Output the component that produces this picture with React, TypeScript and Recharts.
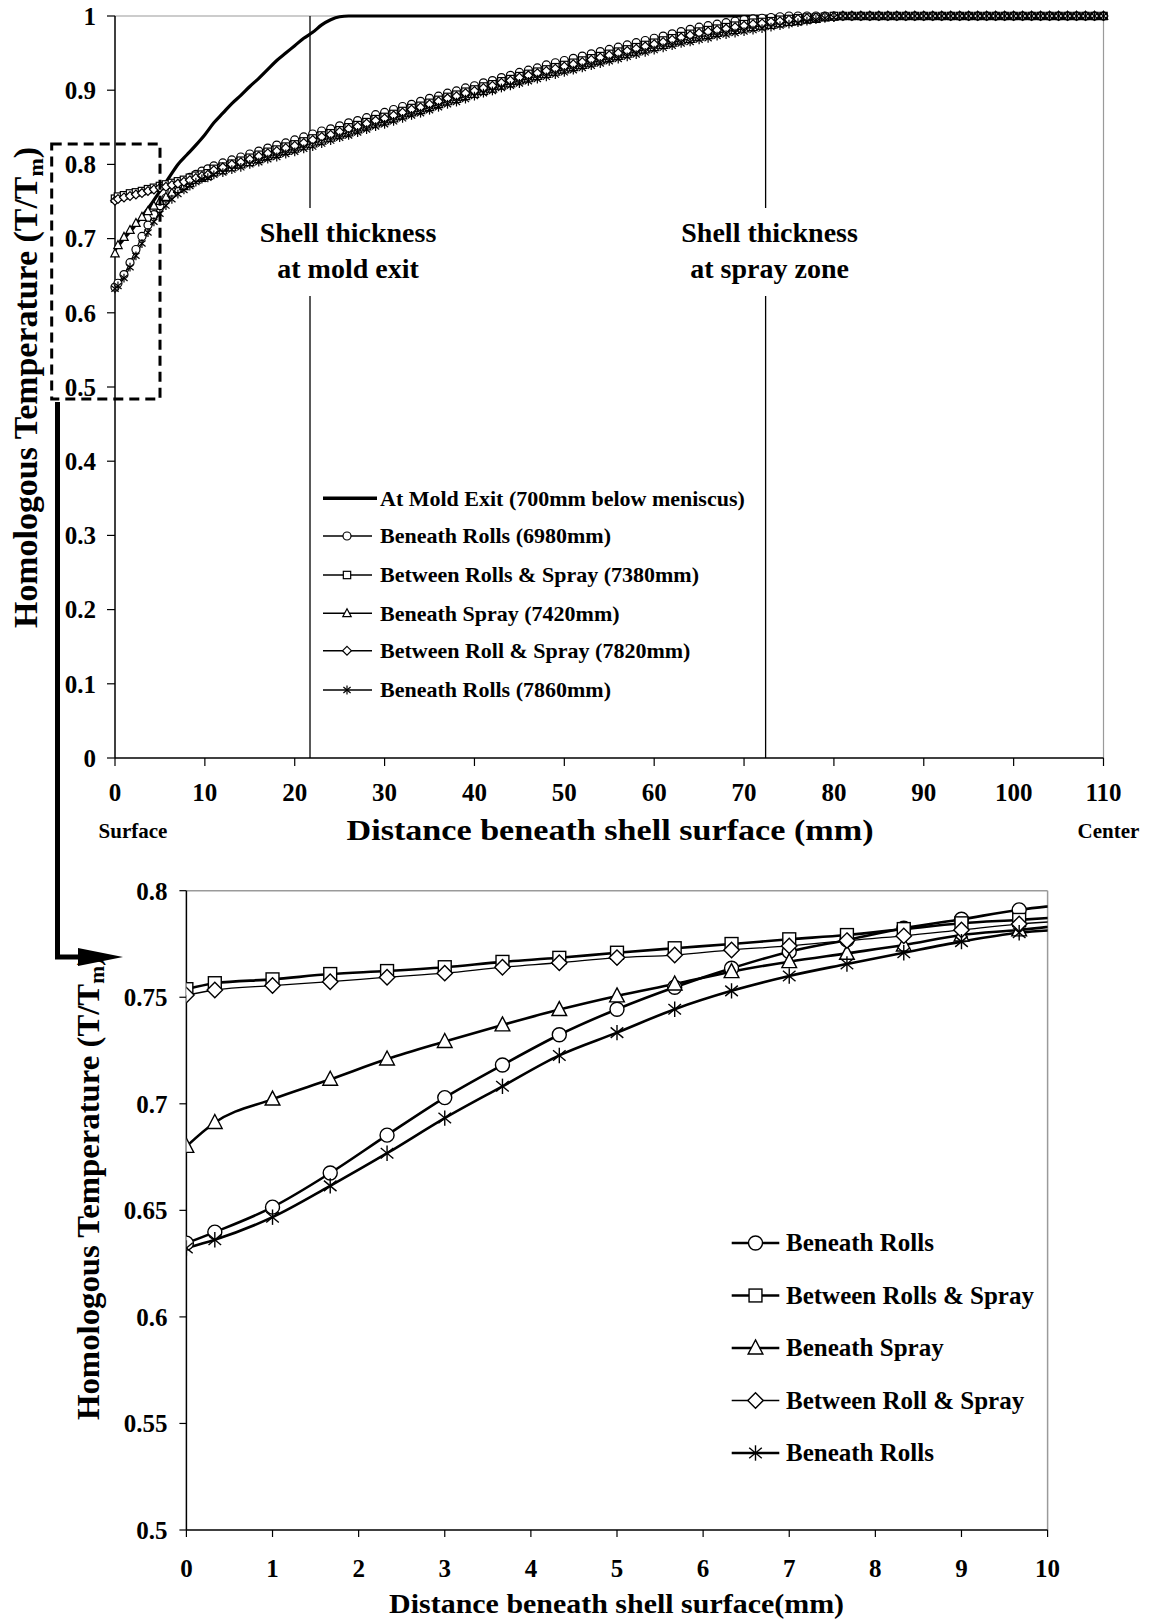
import React from 'react';
import { LineChart, Line, XAxis, YAxis, ReferenceLine, Legend, CartesianGrid } from 'recharts';

const FONT = "'Liberation Serif', 'Times New Roman', Times, serif";

// distance beneath shell surface (mm) for the first 10 mm (same nodes in both charts)
const nearX = [0, 0.33, 1, 1.67, 2.33, 3, 3.67, 4.33, 5, 5.67, 6.33, 7, 7.67, 8.33, 9, 9.67, 10.33];
const rolls6980Near = [0.6346, 0.6398, 0.6515, 0.6675, 0.6853, 0.7029, 0.7182, 0.7324, 0.7444, 0.7547, 0.7636, 0.7714, 0.7769, 0.7824, 0.7866, 0.791, 0.794];
const rollsSpray7380Near = [0.7538, 0.7566, 0.7584, 0.7609, 0.7623, 0.7641, 0.7666, 0.7685, 0.7709, 0.773, 0.775, 0.7772, 0.7792, 0.782, 0.7847, 0.7863, 0.788];
const spray7420Near = [0.68, 0.6912, 0.7022, 0.7115, 0.721, 0.7292, 0.737, 0.7442, 0.7506, 0.7562, 0.762, 0.7667, 0.7706, 0.7745, 0.7792, 0.7816, 0.7845];
const rollSpray7820Near = [0.751, 0.7534, 0.7555, 0.7573, 0.7594, 0.7613, 0.7641, 0.7662, 0.7686, 0.7698, 0.7722, 0.7741, 0.7766, 0.7788, 0.7816, 0.7844, 0.786];
const rolls7860Near = [0.6323, 0.6362, 0.6468, 0.6615, 0.6768, 0.6933, 0.7082, 0.7227, 0.7334, 0.7444, 0.753, 0.76, 0.7656, 0.7709, 0.7761, 0.7803, 0.782];

// remaining half thickness, 11 .. 110 mm
const farX = [
  11, 12, 13, 14, 15, 16, 17, 18, 19, 20, 21, 22, 23, 24, 25, 26, 27, 28, 29, 30,
  31, 32, 33, 34, 35, 36, 37, 38, 39, 40, 41, 42, 43, 44, 45, 46, 47, 48, 49, 50,
  51, 52, 53, 54, 55, 56, 57, 58, 59, 60, 61, 62, 63, 64, 65, 66, 67, 68, 69, 70,
  71, 72, 73, 74, 75, 76, 77, 78, 79, 80, 81, 82, 83, 84, 85, 86, 87, 88, 89, 90,
  91, 92, 93, 94, 95, 96, 97, 98, 99, 100, 101, 102, 103, 104, 105, 106, 107, 108, 109, 110,
];
// 81 .. 110 mm: fully liquid core
const plateau = [1, 1, 1, 1, 1, 1, 1, 1, 1, 1, 1, 1, 1, 1, 1, 1, 1, 1, 1, 1, 1, 1, 1, 1, 1, 1, 1, 1, 1, 1];
const rolls6980Far = [
  0.798, 0.802, 0.806, 0.81, 0.814, 0.818, 0.822, 0.826, 0.829, 0.833,
  0.837, 0.841, 0.845, 0.848, 0.852, 0.856, 0.859, 0.863, 0.867, 0.87,
  0.874, 0.878, 0.881, 0.885, 0.889, 0.892, 0.896, 0.899, 0.903, 0.906,
  0.91, 0.913, 0.917, 0.92, 0.924, 0.927, 0.93, 0.934, 0.937, 0.94,
  0.943, 0.946, 0.949, 0.952, 0.955, 0.958, 0.961, 0.964, 0.967, 0.97,
  0.973, 0.976, 0.979, 0.982, 0.985, 0.987, 0.989, 0.991, 0.993, 0.995,
  0.996, 0.997, 0.998, 0.999, 1, 1, 1, 1, 1, 1, ...plateau,
];
const rollsSpray7380Far = [
  0.794, 0.797, 0.801, 0.805, 0.809, 0.813, 0.817, 0.82, 0.824, 0.827,
  0.831, 0.835, 0.839, 0.842, 0.846, 0.85, 0.853, 0.857, 0.861, 0.864,
  0.868, 0.872, 0.876, 0.879, 0.883, 0.887, 0.891, 0.894, 0.898, 0.901,
  0.905, 0.908, 0.912, 0.915, 0.919, 0.922, 0.925, 0.928, 0.931, 0.934,
  0.937, 0.94, 0.943, 0.946, 0.949, 0.952, 0.955, 0.958, 0.961, 0.964,
  0.967, 0.97, 0.973, 0.976, 0.979, 0.981, 0.983, 0.985, 0.987, 0.989,
  0.991, 0.992, 0.993, 0.995, 0.996, 0.997, 0.998, 0.998, 0.999, 1, ...plateau,
];
const spray7420Far = [
  0.789, 0.792, 0.796, 0.8, 0.803, 0.807, 0.811, 0.814, 0.818, 0.821,
  0.825, 0.828, 0.832, 0.836, 0.84, 0.843, 0.847, 0.851, 0.855, 0.858,
  0.862, 0.866, 0.87, 0.873, 0.877, 0.881, 0.885, 0.888, 0.892, 0.895,
  0.899, 0.902, 0.906, 0.909, 0.913, 0.916, 0.919, 0.922, 0.925, 0.928,
  0.931, 0.934, 0.937, 0.94, 0.943, 0.946, 0.949, 0.952, 0.955, 0.958,
  0.961, 0.964, 0.967, 0.969, 0.972, 0.974, 0.977, 0.979, 0.981, 0.983,
  0.985, 0.987, 0.988, 0.99, 0.992, 0.993, 0.995, 0.996, 0.998, 0.999, ...plateau,
];
const rollSpray7820Far = [
  0.792, 0.796, 0.8, 0.803, 0.807, 0.811, 0.815, 0.818, 0.822, 0.825,
  0.829, 0.833, 0.837, 0.84, 0.844, 0.848, 0.851, 0.855, 0.859, 0.862,
  0.866, 0.87, 0.874, 0.877, 0.881, 0.885, 0.889, 0.892, 0.896, 0.899,
  0.903, 0.906, 0.91, 0.913, 0.917, 0.92, 0.923, 0.926, 0.929, 0.932,
  0.935, 0.938, 0.941, 0.944, 0.947, 0.95, 0.953, 0.956, 0.959, 0.962,
  0.965, 0.968, 0.971, 0.974, 0.977, 0.979, 0.981, 0.983, 0.985, 0.987,
  0.989, 0.99, 0.992, 0.993, 0.995, 0.996, 0.997, 0.998, 0.999, 0.999, ...plateau,
];
const rolls7860Far = [
  0.786, 0.789, 0.793, 0.796, 0.8, 0.803, 0.807, 0.81, 0.814, 0.817,
  0.821, 0.824, 0.828, 0.832, 0.836, 0.839, 0.843, 0.847, 0.851, 0.854,
  0.858, 0.862, 0.866, 0.869, 0.873, 0.877, 0.881, 0.884, 0.888, 0.892,
  0.896, 0.899, 0.903, 0.906, 0.909, 0.912, 0.915, 0.918, 0.921, 0.924,
  0.927, 0.93, 0.933, 0.936, 0.939, 0.942, 0.945, 0.948, 0.951, 0.954,
  0.957, 0.96, 0.963, 0.965, 0.968, 0.97, 0.973, 0.975, 0.977, 0.979,
  0.981, 0.983, 0.985, 0.987, 0.989, 0.991, 0.993, 0.995, 0.997, 0.998, ...plateau,
];

// mold exit profile (no markers)
const moldExitX = [0, 1, 2, 3, 4, 5, 6, 7, 8, 9, 10, 11, 12, 13, 14, 15, 16, 17, 18, 19, 20, 21, 22, 23, 24, 25, 26, 110];
const moldExitT = [0.685, 0.7, 0.714, 0.73, 0.746, 0.764, 0.782, 0.8, 0.813, 0.826, 0.84, 0.856, 0.869, 0.882, 0.893, 0.905, 0.916, 0.928, 0.94, 0.95, 0.96, 0.97, 0.978, 0.988, 0.995, 0.999, 1, 1];

const moldExitName = 'At Mold Exit (700mm below meniscus)';
const seriesNames = ['Beneath Rolls (6980mm)', 'Between Rolls & Spray (7380mm)', 'Beneath Spray (7420mm)', 'Between Roll & Spray (7820mm)', 'Beneath Rolls (7860mm)'];
const zoomNames = ['Beneath Rolls', 'Between Rolls & Spray', 'Beneath Spray', 'Between Roll & Spray', 'Beneath Rolls'];
const markerShapes = ['circle', 'square', 'triangle', 'diamond', 'star'];
const zoomLineWidth = [2.6, 2.6, 2.6, 1.3, 2.6];

const topXTicks = [0, 10, 20, 30, 40, 50, 60, 70, 80, 90, 100, 110];
const topYTicks = [0, 0.1, 0.2, 0.3, 0.4, 0.5, 0.6, 0.7, 0.8, 0.9, 1];
const zoomXTicks = [0, 1, 2, 3, 4, 5, 6, 7, 8, 9, 10];
const zoomYTicks = [0.5, 0.55, 0.6, 0.65, 0.7, 0.75, 0.8];

const shellMoldExit = 21.7;
const shellSprayZone = 72.4;

const nearValues = [rolls6980Near, rollsSpray7380Near, spray7420Near, rollSpray7820Near, rolls7860Near];
const farValues = [rolls6980Far, rollsSpray7380Far, spray7420Far, rollSpray7820Far, rolls7860Far];

const toPoints = (xs: number[], ys: number[]) => xs.map((x, i) => ({ x, t: ys[i] }));
const topSeries = nearValues.map((v, i) => toPoints([...nearX, ...farX], [...v, ...farValues[i]]));
const zoomSeries = nearValues.map((v) => toPoints(nearX, v));
const moldExit = toPoints(moldExitX, moldExitT);

const tickStyle = { fill: '#000', fontFamily: FONT, fontWeight: 700, fontSize: 25 };
const axisStroke = { stroke: '#000', strokeWidth: 1.5 };
const tickStroke = { stroke: '#000', strokeWidth: 1.2 };

function Marker({ shape, cx, cy, s, sw }: { shape: string; cx?: number; cy?: number; s: number; sw: number }) {
  if (cx == null || cy == null) return null;
  const p = { fill: '#fff', stroke: '#000', strokeWidth: sw };
  if (shape === 'circle') return <circle cx={cx} cy={cy} r={s} {...p} />;
  if (shape === 'square') return <rect x={cx - s * 0.92} y={cy - s * 0.92} width={s * 1.84} height={s * 1.84} {...p} />;
  if (shape === 'triangle')
    return <polygon points={`${cx},${cy - s * 1.15} ${cx + s * 1.05},${cy + s * 0.85} ${cx - s * 1.05},${cy + s * 0.85}`} {...p} />;
  if (shape === 'diamond')
    return <polygon points={`${cx},${cy - s * 1.1} ${cx + s * 1.1},${cy} ${cx},${cy + s * 1.1} ${cx - s * 1.1},${cy}`} {...p} />;
  return (
    <g stroke="#000" strokeWidth={sw}>
      <line x1={cx} y1={cy - s * 1.1} x2={cx} y2={cy + s * 1.1} />
      <line x1={cx - s * 0.9} y1={cy - s * 0.75} x2={cx + s * 0.9} y2={cy + s * 0.75} />
      <line x1={cx - s * 0.9} y1={cy + s * 0.75} x2={cx + s * 0.9} y2={cy - s * 0.75} />
    </g>
  );
}

const dotFor = (shape: string, s: number, sw: number) => (p: any) => (
  <Marker key={`${shape}-${p.index}`} shape={shape} cx={p.cx} cy={p.cy} s={s} sw={sw} />
);

const labelText = { fontFamily: FONT, fontWeight: 700, fill: '#000' } as const;

const shellLabel = (dx: number, lines: string[]) => (props: any) => {
  const x = (props.viewBox?.x ?? 0) + dx;
  return (
    <g>
      <rect x={x - 94} y={208} width={188} height={88} fill="#fff" />
      <text x={x} y={241.7} textAnchor="middle" fontSize={28} {...labelText}>{lines[0]}</text>
      <text x={x} y={278.3} textAnchor="middle" fontSize={28} {...labelText}>{lines[1]}</text>
    </g>
  );
};

function TopLegend() {
  const rowY = [28.3, 66, 105, 143.3, 180.7, 220];
  return (
    <svg width={440} height={240} style={{ display: 'block' }}>
      <line x1={3} x2={57} y1={rowY[0]} y2={rowY[0]} stroke="#000" strokeWidth={3.4} />
      <text x={60} y={rowY[0] + 7.3} fontSize={22} {...labelText}>{moldExitName}</text>
      {seriesNames.map((name, i) => {
        const y = rowY[i + 1];
        return (
          <g key={name}>
            <line x1={3} x2={52} y1={y} y2={y} stroke="#000" strokeWidth={1.6} />
            <Marker shape={markerShapes[i]} cx={27} cy={y} s={4} sw={1.2} />
            <text x={60} y={y + 7.3} fontSize={22} {...labelText}>{name}</text>
          </g>
        );
      })}
    </svg>
  );
}

function ZoomLegend() {
  const rowY = [28, 80.5, 133, 185.5, 238];
  return (
    <svg width={410} height={260} style={{ display: 'block' }}>
      {zoomNames.map((name, i) => {
        const y = rowY[i];
        return (
          <g key={`${name}-${i}`}>
            <line x1={6.7} x2={54.3} y1={y} y2={y} stroke="#000" strokeWidth={zoomLineWidth[i]} />
            <Marker shape={markerShapes[i]} cx={30.5} cy={y} s={7} sw={1.4} />
            <text x={61} y={y + 8.3} fontSize={25} {...labelText}>{name}</text>
          </g>
        );
      })}
    </svg>
  );
}

function TopChart() {
  return (
    <LineChart width={1151} height={860} margin={{ top: 16, right: 47.5, bottom: 72, left: 55 }}>
      <CartesianGrid
        stroke="#9a9a9a"
        strokeWidth={1.2}
        horizontalCoordinatesGenerator={({ offset }: any) => [offset.top]}
        verticalCoordinatesGenerator={({ offset }: any) => [offset.left + offset.width]}
      />
      <XAxis
        type="number"
        dataKey="x"
        domain={[0, 110]}
        ticks={topXTicks}
        interval={0}
        height={30}
        tickSize={8}
        tickMargin={17}
        tick={tickStyle}
        axisLine={axisStroke}
        tickLine={tickStroke}
        allowDuplicatedCategory={false}
      />
      <YAxis
        type="number"
        domain={[0, 1]}
        ticks={topYTicks}
        interval={0}
        width={60}
        tickSize={8}
        tickMargin={11}
        tick={tickStyle}
        axisLine={axisStroke}
        tickLine={tickStroke}
      />
      <ReferenceLine x={shellMoldExit} stroke="#000" strokeWidth={1.3} label={shellLabel(38, ['Shell thickness', 'at mold exit'])} />
      <ReferenceLine x={shellSprayZone} stroke="#000" strokeWidth={1.3} label={shellLabel(4, ['Shell thickness', 'at spray zone'])} />
      <Line data={moldExit} dataKey="t" name={moldExitName} type="monotone" stroke="#000" strokeWidth={3.2} dot={false} activeDot={false} isAnimationActive={false} />
      {topSeries.map((pts, i) => (
        <Line
          key={seriesNames[i]}
          data={pts}
          dataKey="t"
          name={seriesNames[i]}
          type="monotone"
          stroke="#000"
          strokeWidth={1.2}
          dot={dotFor(markerShapes[i], 4, 1.2)}
          activeDot={false}
          isAnimationActive={false}
        />
      ))}
      <Legend
        content={() => <TopLegend />}
        layout="vertical"
        align="center"
        verticalAlign="middle"
        wrapperStyle={{ left: 320, top: 470, width: 440, height: 240 }}
      />
    </LineChart>
  );
}

function ZoomChart() {
  return (
    <LineChart width={1151} height={762} margin={{ top: 30.7, right: 103.4, bottom: 32, left: 106.4 }}>
      <CartesianGrid
        stroke="#9a9a9a"
        strokeWidth={1.5}
        horizontalCoordinatesGenerator={({ offset }: any) => [offset.top]}
        verticalCoordinatesGenerator={({ offset }: any) => [offset.left + offset.width]}
      />
      <XAxis
        type="number"
        dataKey="x"
        domain={[0, 10]}
        allowDataOverflow
        ticks={zoomXTicks}
        interval={0}
        height={60}
        tickSize={7}
        tickMargin={22}
        tick={tickStyle}
        axisLine={axisStroke}
        tickLine={tickStroke}
        allowDuplicatedCategory={false}
      />
      <YAxis
        type="number"
        domain={[0.5, 0.8]}
        allowDataOverflow
        ticks={zoomYTicks}
        interval={0}
        width={80}
        tickSize={7}
        tickMargin={12}
        tick={tickStyle}
        axisLine={axisStroke}
        tickLine={tickStroke}
      />
      {zoomSeries.map((pts, i) => (
        <Line
          key={`${zoomNames[i]}-${i}`}
          data={pts}
          dataKey="t"
          name={zoomNames[i]}
          type="monotone"
          stroke="#000"
          strokeWidth={zoomLineWidth[i]}
          dot={dotFor(markerShapes[i], 7, 1.4)}
          activeDot={false}
          isAnimationActive={false}
        />
      ))}
      <Legend
        content={() => <ZoomLegend />}
        layout="vertical"
        align="center"
        verticalAlign="middle"
        wrapperStyle={{ left: 725, top: 355, width: 410, height: 260 }}
      />
    </LineChart>
  );
}

export default function App() {
  return (
    <div style={{ position: 'absolute', left: 0, top: 0, width: 1151, height: 1622, background: '#fff' }}>
      <div style={{ position: 'absolute', left: 0, top: 0 }}>
        <TopChart />
      </div>
      <div style={{ position: 'absolute', left: 0, top: 860 }}>
        <ZoomChart />
      </div>
      <svg width={1151} height={1622} style={{ position: 'absolute', left: 0, top: 0, pointerEvents: 'none' }}>
        <g {...labelText}>
          <text x={610} y={840} textAnchor="middle" fontSize={30} textLength={527} lengthAdjust="spacingAndGlyphs">
            Distance beneath shell surface (mm)
          </text>
          <text x={133} y={838.3} textAnchor="middle" fontSize={21}>Surface</text>
          <text x={1108.5} y={838.3} textAnchor="middle" fontSize={21}>Center</text>
          <text x={37.3} y={387.5} transform="rotate(-90 37.3 387.5)" textAnchor="middle" fontSize={34} textLength={481} lengthAdjust="spacingAndGlyphs">
            Homologous Temperature (T/T<tspan dy={6} fontSize={22}>m</tspan><tspan dy={-6}>)</tspan>
          </text>
          <text x={616.6} y={1613} textAnchor="middle" fontSize={28} textLength={455} lengthAdjust="spacingAndGlyphs">
            Distance beneath shell surface(mm)
          </text>
          <text x={99} y={1187.5} transform="rotate(-90 99 1187.5)" textAnchor="middle" fontSize={32} textLength={465} lengthAdjust="spacingAndGlyphs">
            Homologous Temperature (T/T<tspan dy={5} fontSize={21}>m</tspan><tspan dy={-5}>)</tspan>
          </text>
        </g>
        <rect x={51.7} y={144} width={108.3} height={255} fill="none" stroke="#000" strokeWidth={3} strokeDasharray="10 6" />
        <path d="M57.5 402 V957 H80" fill="none" stroke="#000" strokeWidth={5} />
        <polygon points="78,948 123,957 78,966" fill="#000" />
      </svg>
    </div>
  );
}
